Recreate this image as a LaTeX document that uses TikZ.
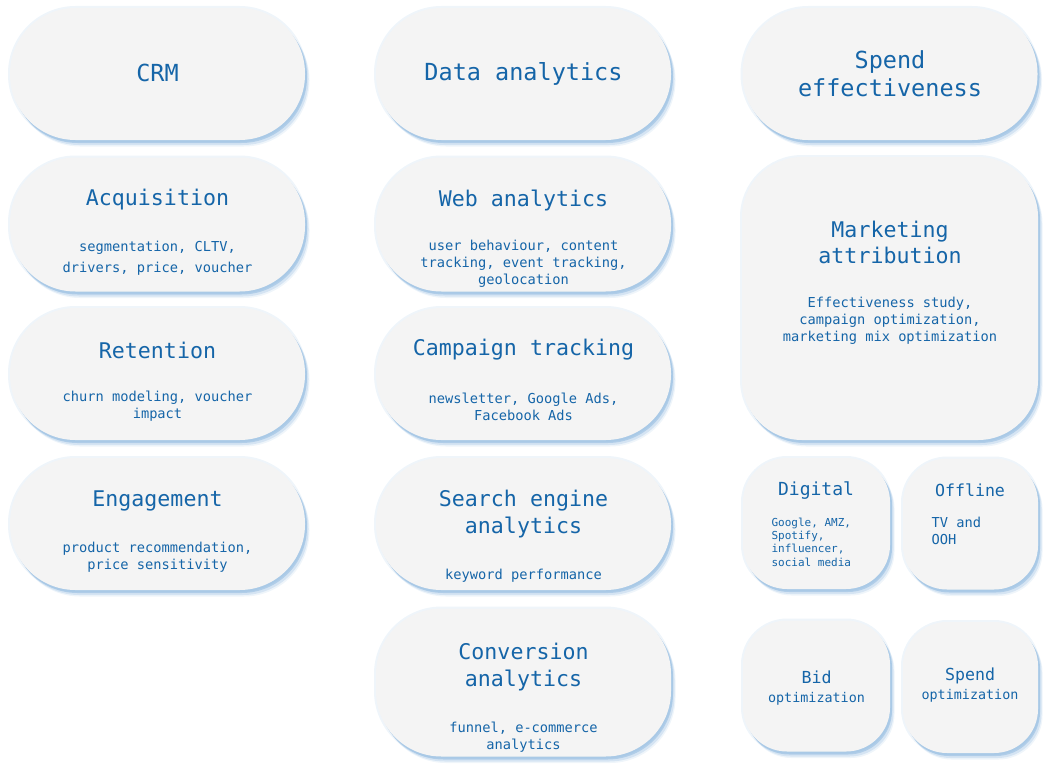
\documentclass[tikz,border=0pt]{standalone}
\usepackage{fontspec}
\newfontfamily\cardfont{DejaVu Sans Mono}
\definecolor{cardgray}{HTML}{F4F4F4}
\definecolor{inkblue}{HTML}{1565A8}
\definecolor{glowblue}{HTML}{78AAD8}
\tikzset{
  card/.style={fill=cardgray, inner sep=0pt,
    preaction={draw=glowblue, line width=4pt, opacity=.12},
    preaction={fill=glowblue, opacity=.12, transform canvas={shift={(4.5pt,-6.5pt)}}},
    preaction={fill=glowblue, opacity=.22, transform canvas={shift={(3.5pt,-5pt)}}},
    preaction={fill=glowblue, opacity=.4, transform canvas={shift={(2pt,-3pt)}}}},
  pill/.style={card, minimum width=295pt, minimum height=#1, rounded corners=65.5pt},
  block/.style={card, minimum width=296pt, minimum height=283pt, rounded corners=60pt},
  tile/.style={card, minimum width=#1, minimum height=131pt, rounded corners=44pt},
  words/.style={text=inkblue, align=center, yshift=-2pt},
  toptitle/.style={words, font=\cardfont\fontsize{23.5}{28}\selectfont},
  title/.style={words, font=\cardfont\fontsize{21.6}{26.5}\selectfont},
  sub/.style={words, font=\cardfont\fontsize{13.7}{17}\selectfont},
  tiletitle/.style={words, font=\cardfont\fontsize{16.6}{19}\selectfont},
  tinysub/.style={words, align=left, font=\cardfont\fontsize{11}{13.4}\selectfont}
}
\begin{document}
\begin{tikzpicture}[x=1pt, y=-1pt]
  \useasboundingbox (0,0) rectangle (1056,776);
  % CRM column
  \node[pill=132pt] (crm) at (157.5,74) {};
  \node[pill=134pt] (acq) at (157.5,224.5) {};
  \node[pill=132pt] (ret) at (157.5,374) {};
  \node[pill=132pt] (eng) at (157.5,524) {};
  \node[toptitle] (crmT) at (157.5,71) {CRM};
  \node[title] (acqT) at (157.5,198) {Acquisition};
  \node[sub, font=\cardfont\fontsize{13.7}{21}\selectfont] (acqS) at (157.5,256)
    {segmentation, CLTV,\\drivers, price, voucher};
  \node[title] (retT) at (157.5,348) {Retention};
  \node[sub] (retS) at (157.5,404.5) {churn modeling, voucher\\impact};
  \node[title] (engT) at (157.5,499) {Engagement};
  \node[sub] (engS) at (157.5,555.5) {product recommendation,\\price sensitivity};

  % data analytics column
  \node[pill=132pt] (data) at (523.5,74) {};
  \node[pill=134pt] (web) at (523.5,224.5) {};
  \node[pill=132pt] (camp) at (523.5,374) {};
  \node[pill=132pt] (search) at (523.5,524) {};
  \node[pill=148pt] (conv) at (523.5,682.5) {};
  \node[toptitle] (dataT) at (523.5,72) {Data analytics};
  \node[title] (webT) at (523.5,198) {Web analytics};
  \node[sub] (webS) at (523.5,262) {user behaviour, content\\tracking, event tracking,\\geolocation};
  \node[title] (campT) at (523.5,348) {Campaign tracking};
  \node[sub] (campS) at (523.5,404.5) {newsletter, Google Ads,\\Facebook Ads};
  \node[title] (searchT) at (523.5,512) {Search engine\\analytics};
  \node[sub] (searchS) at (523.5,574) {keyword performance};
  \node[title] (convT) at (523.5,665) {Conversion\\analytics};
  \node[sub] (convS) at (523.5,735) {funnel, e-commerce\\analytics};

  % spend column
  \node[pill=132pt] (spend) at (890,74) {};
  \node[block] (mark) at (890,298.5) {};
  \node[tile=147pt] (dig) at (816.5,523.5) {};
  \node[tile=135pt] (off) at (970.5,524) {};
  \node[tile=147pt] (bid) at (816.5,686) {};
  \node[tile=135pt] (spo) at (970.5,687.5) {};
  \node[toptitle] (spendT) at (890,72) {Spend\\effectiveness};
  \node[title] (markT) at (890,240.5) {Marketing\\attribution};
  \node[sub] (markS) at (890,318.5) {Effectiveness study,\\campaign optimization,\\marketing mix optimization};
  \node[tiletitle, font=\cardfont\fontsize{18}{20}\selectfont] (digT) at (816,489) {Digital};
  \node[tinysub, anchor=west] (digS) at (768,540) {Google, AMZ,\\Spotify,\\influencer,\\social media};
  \node[tiletitle] (offT) at (970,488) {Offline};
  \node[sub, align=left, anchor=west] (offS) at (928,528.5) {TV and\\OOH};
  \node[tiletitle] (bidT) at (816.5,686.5) {Bid\\{\fontsize{13.4}{17}\selectfont optimization}};
  \node[tiletitle] (spoT) at (970,683.5) {Spend\\{\fontsize{13.4}{17}\selectfont optimization}};
\end{tikzpicture}
\end{document}
